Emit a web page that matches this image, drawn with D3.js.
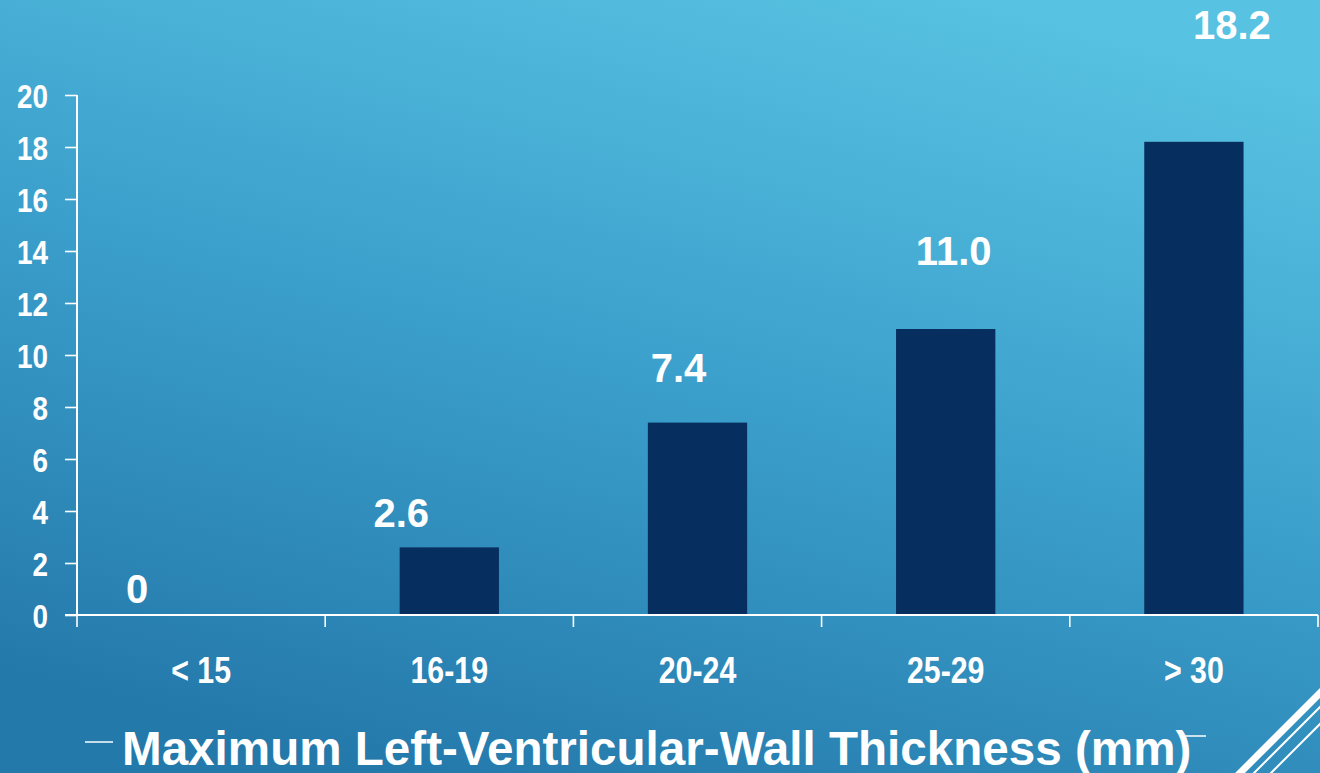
<!DOCTYPE html>
<html>
<head>
<meta charset="utf-8">
<script src="https://cdn.jsdelivr.net/npm/d3@7"></script>
<style>
  html, body { margin: 0; padding: 0; overflow: hidden; }
  svg { display: block; }
  text { font-family: "Liberation Sans", Arial, sans-serif; font-weight: bold; fill: #ffffff; }
</style>
</head>
<body>
<svg id="chart" width="1320" height="773"></svg>
<script>
// Sudden-death incidence by maximum left-ventricular wall thickness
const categories = ["< 15", "16-19", "20-24", "25-29", "> 30"];
const values = [0, 2.6, 7.4, 11.0, 18.2];
const valueLabels = ["0", "2.6", "7.4", "11.0", "18.2"];
const yTicks = [0, 2, 4, 6, 8, 10, 12, 14, 16, 18, 20];
const xTitle = "Maximum Left-Ventricular-Wall Thickness (mm)";

// hand-placed label offsets (px) from each bar's top centre
const labelNudge = [[-64, -12], [-48, -20], [-19, -41], [8, -64], [38, -103]];

const W = 1320, H = 773;
const svg = d3.select("#chart");
const NARROW = 0.82;

// slide background
const defs = svg.append("defs");
const grad = defs.append("linearGradient")
  .attr("id", "bg").attr("x1", "0.75").attr("y1", "0").attr("x2", "0.3").attr("y2", "1");
grad.append("stop").attr("offset", "0").attr("stop-color", "#58c2e2");
grad.append("stop").attr("offset", "0.5").attr("stop-color", "#3b9fcb");
grad.append("stop").attr("offset", "1").attr("stop-color", "#2479ab");
svg.append("rect").attr("width", W).attr("height", H).attr("fill", "url(#bg)");

// plot geometry
const plotLeft = 77, plotRight = 1318, plotTop = 95, plotBottom = 615;

const x = d3.scaleBand().domain(categories).range([plotLeft, plotRight])
  .paddingInner(0.6).paddingOuter(0.3);
const y = d3.scaleLinear().domain([0, 20]).range([plotBottom, plotTop]);

// bars
svg.append("g").selectAll("rect").data(values).join("rect")
  .attr("x", (d, i) => x(categories[i]))
  .attr("y", d => y(d))
  .attr("width", x.bandwidth())
  .attr("height", d => y(0) - y(d))
  .attr("fill", "#062e5f");

// y axis
const yAxis = svg.append("g").attr("transform", `translate(${plotLeft},0)`)
  .call(d3.axisLeft(y).tickValues(yTicks).tickSize(12).tickPadding(17).tickFormat(d3.format("d")));
yAxis.select(".domain").attr("stroke", "#fff").attr("stroke-width", 2).attr("d", `M0,${plotTop}V${plotBottom}`);
yAxis.selectAll(".tick line").attr("stroke", "#fff").attr("stroke-width", 1.6);
yAxis.selectAll(".tick text")
  .attr("fill", "#fff").attr("font-size", 34).attr("font-family", "Liberation Sans, Arial, sans-serif")
  .attr("font-weight", "bold")
  .attr("x", -29 / NARROW).attr("dy", "0.36em")
  .attr("transform", `scale(${NARROW},1)`);

// x axis: labels centred on bars, ticks at category boundaries
const xAxis = svg.append("g").attr("transform", `translate(0,${plotBottom})`)
  .call(d3.axisBottom(x).tickSize(0).tickPadding(0));
xAxis.select(".domain").remove();
xAxis.selectAll(".tick text")
  .attr("fill", "#fff").attr("font-size", 37).attr("font-family", "Liberation Sans, Arial, sans-serif")
  .attr("font-weight", "bold")
  .attr("y", 68).attr("dy", 0)
  .attr("transform", `scale(${NARROW},1)`);

const step = x.step();
const bounds = categories.map(c => x(c) + x.bandwidth() / 2 - step / 2);
bounds.push(bounds[bounds.length - 1] + step);
svg.append("line").attr("x1", 65).attr("x2", plotRight).attr("y1", plotBottom).attr("y2", plotBottom)
  .attr("stroke", "#fff").attr("stroke-width", 2);
svg.append("g").selectAll("line").data(bounds).join("line")
  .attr("x1", d => d).attr("x2", d => d)
  .attr("y1", plotBottom).attr("y2", plotBottom + 12)
  .attr("stroke", "#fff").attr("stroke-width", 1.6);

// value labels
svg.append("g").selectAll("text").data(values).join("text")
  .attr("x", (d, i) => x(categories[i]) + x.bandwidth() / 2 + labelNudge[i][0])
  .attr("y", (d, i) => y(d) + labelNudge[i][1])
  .attr("text-anchor", "middle")
  .attr("font-size", 40)
  .text((d, i) => valueLabels[i]);

// axis title
svg.append("text").attr("x", 122).attr("y", 765)
  .attr("font-size", 47.6).text(xTitle);

// template decorations
svg.append("line").attr("x1", 85).attr("x2", 113).attr("y1", 742).attr("y2", 742)
  .attr("stroke", "#fff").attr("stroke-width", 1.5);
svg.append("line").attr("x1", 1183).attr("x2", 1206).attr("y1", 736).attr("y2", 736)
  .attr("stroke", "#fff").attr("stroke-width", 1.5);
const diag = [[1237, 7], [1251, 2], [1268, 2]];
svg.append("g").selectAll("line").data(diag).join("line")
  .attr("x1", d => d[0]).attr("y1", H + 3)
  .attr("x2", d => d[0] + 90).attr("y2", H + 3 - 90)
  .attr("stroke", "#fff").attr("stroke-width", d => d[1]);
</script>
</body>
</html>
